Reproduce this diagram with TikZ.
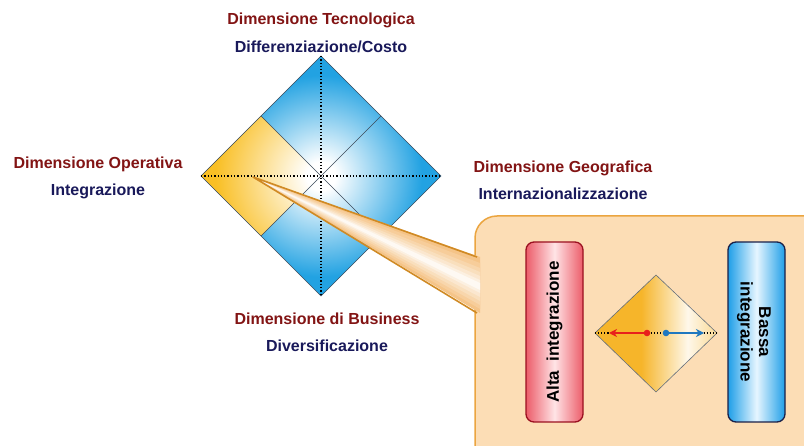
\documentclass[tikz,border=0pt]{standalone}
\usepackage{fontspec}
\setmainfont{Liberation Sans}
\usetikzlibrary{arrows.meta}

% Colours
\definecolor{dimred}{HTML}{821414}
\definecolor{dimnavy}{HTML}{19195A}
\definecolor{dimblue}{HTML}{22A2E2}
\definecolor{dimyellow}{HTML}{F9BF24}
\definecolor{edgegray}{HTML}{3C4A5A}
\definecolor{calloutfill}{HTML}{FCDDB5}
\definecolor{calloutline}{HTML}{EBA540}
\definecolor{wedgefill}{HTML}{F5C488}
\definecolor{wedgeline}{HTML}{D08A24}
\definecolor{altared}{HTML}{EC5C69}
\definecolor{altalight}{HTML}{FFE4E6}
\definecolor{altaline}{HTML}{9A1020}
\definecolor{bassablue}{HTML}{1F9FE8}
\definecolor{bassalight}{HTML}{E6F6FF}
\definecolor{bassaline}{HTML}{1A2048}
\definecolor{smorange}{HTML}{F6B52A}
\definecolor{arrowred}{HTML}{E8201C}
\definecolor{arrowblue}{HTML}{1F78C0}

% Shadings (the middle 50bp square is fitted to the path)
\pgfdeclareradialshading{bluedim}{\pgfpoint{0bp}{0bp}}{color(0bp)=(white); color(3bp)=(white); color(21bp)=(dimblue); color(50bp)=(dimblue)}
\pgfdeclareradialshading{yellowdim}{\pgfpoint{0bp}{0bp}}{color(0bp)=(white); color(3bp)=(white); color(22bp)=(dimyellow); color(50bp)=(dimyellow)}
\pgfdeclarehorizontalshading{smalldim}{100bp}{color(0bp)=(smorange); color(25bp)=(smorange); color(44bp)=(smorange); color(63bp)=(white!90!smorange); color(75bp)=(smorange!50!white); color(100bp)=(smorange!50!white)}

\begin{document}
\begin{tikzpicture}[x=1pt, y=-1pt,
    dimtitle/.style={font=\fontsize{16}{19}\selectfont\bfseries, text=dimred, inner sep=0pt},
    dimsub/.style={font=\fontsize{16}{19}\selectfont\bfseries, text=dimnavy, inner sep=0pt},
    edgeline/.style={draw=edgegray, line width=0.6pt},
    axisline/.style={black, dotted, line width=1.3pt},
    levelbox/.style={rounded corners=8pt, line width=1.3pt, minimum width=57pt, minimum height=180pt, inner sep=0pt},
    levellabel/.style={font=\fontsize{17}{18.5}\selectfont\bfseries, inner sep=0pt, align=center}]

  \useasboundingbox (0,0) rectangle (804,446);

  % Main diamond
  \coordinate (c) at (321,176);
  \coordinate (top) at (321,56);
  \coordinate (left) at (201,176);
  \coordinate (right) at (441,176);
  \coordinate (bot) at (321,296);
  \coordinate (ul) at (261,116);
  \coordinate (ur) at (381,116);
  \coordinate (dl) at (261,236);
  \coordinate (dr) at (381,236);

  \shade[shading=bluedim] (top) -- (right) -- (bot) -- (left) -- cycle;
  \begin{scope}
    \clip (left) -- (ul) -- (c) -- (dl) -- cycle;
    \shade[shading=yellowdim] (top) -- (right) -- (bot) -- (left) -- cycle;
  \end{scope}
  \draw[edgeline] (top) -- (right) -- (bot) -- (left) -- cycle;
  \draw[edgeline] (ul) -- (dr) (ur) -- (dl);
  \draw[axisline] (left) -- (right) (top) -- (bot);

  % Dimension labels
  \node[dimtitle] (tecn) at (321,20) {Dimensione Tecnologica};
  \node[dimsub] (diff) at (321,47) {Differenziazione/Costo};
  \node[dimtitle] (oper) at (98,164) {Dimensione Operativa};
  \node[dimsub] (integr) at (98,191) {Integrazione};
  \node[dimtitle] (geo) at (563,168) {Dimensione Geografica};
  \node[dimsub] (intern) at (563,194) {Internazionalizzazione};
  \node[dimtitle] (busin) at (327,319) {Dimensione di Business};
  \node[dimsub] (divers) at (327,346) {Diversificazione};

  % Callout box
  \begin{scope}
    \clip (0,0) rectangle (804,446);
    \draw[rounded corners=22pt, fill=calloutfill, draw=calloutline, line width=1.5pt] (475,216) rectangle (830,470);
  \end{scope}

  % Callout wedge
  \coordinate (tip) at (253,177);
  \coordinate (wu) at (477,257);
  \coordinate (wl) at (477,313);
  \fill[wedgefill] (tip) -- (480,257) -- (480,313) -- cycle;
  \fill[wedgefill!85!white] (tip) -- (480,263) -- (480,309) -- cycle;
  \fill[wedgefill!70!white] (tip) -- (480,268) -- (480,305) -- cycle;
  \fill[wedgefill!55!white] (tip) -- (480,272) -- (480,301) -- cycle;
  \fill[wedgefill!40!white] (tip) -- (480,276) -- (480,297) -- cycle;
  \fill[wedgefill!25!white] (tip) -- (480,280) -- (480,293) -- cycle;
  \fill[wedgefill!10!white] (tip) -- (480,283) -- (480,290) -- cycle;
  \draw[wedgeline, line width=1.6pt, line join=round] (wu) -- (tip) -- (wl);

  % Level boxes
  \node[levelbox, draw=altaline, left color=altared, right color=altared, middle color=altalight] (alta) at (554.5,332) {};
  \node[levellabel, rotate=90] (altatext) at (alta.center) {Alta\ \ integrazione};
  \node[levelbox, draw=bassaline, left color=bassablue, right color=bassablue, middle color=bassalight] (bassa) at (756.5,332) {};
  \node[levellabel, rotate=-90] (bassatext) at (754,332) {Bassa\\integrazione};

  % Small diamond
  \coordinate (st) at (656,275);
  \coordinate (sl) at (595,333);
  \coordinate (sr) at (717,333);
  \coordinate (sb) at (656,392);
  \shade[shading=smalldim] (st) -- (sr) -- (sb) -- (sl) -- cycle;
  \draw[draw=edgegray!80, line width=0.6pt] (st) -- (sr) -- (sb) -- (sl) -- cycle;
  \draw[black, dotted, line width=1.1pt] (sl) -- (sr);

  % Arrows
  \coordinate (reddot) at (647,333);
  \coordinate (redend) at (609,333);
  \coordinate (bluedot) at (666,333);
  \coordinate (blueend) at (704,333);
  \draw[arrowred, line width=1.6pt, -{Stealth[length=8pt, width=8pt, inset=2.5pt]}] (reddot) -- (redend);
  \draw[arrowblue, line width=1.6pt, -{Stealth[length=8pt, width=8pt, inset=2.5pt]}] (bluedot) -- (blueend);
  \fill[arrowred] (reddot) circle (3.3pt);
  \fill[arrowblue] (bluedot) circle (3.3pt);
\end{tikzpicture}
\end{document}
